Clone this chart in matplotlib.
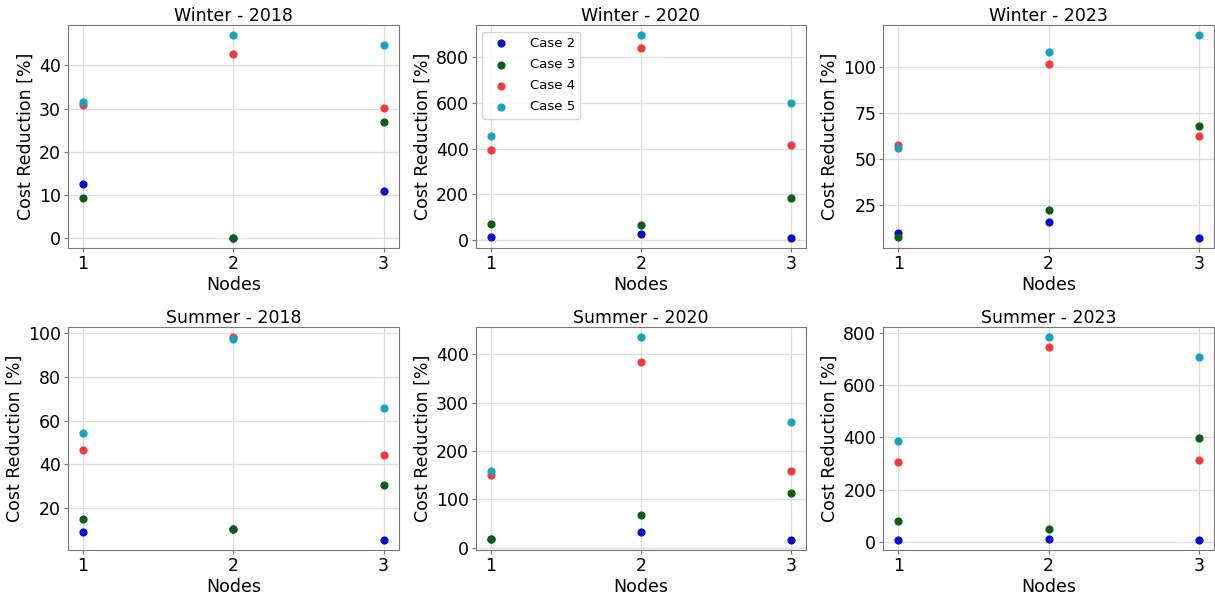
import matplotlib
matplotlib.use("Agg")
import matplotlib.pyplot as plt

nodes = [1, 2, 3]
cases = ["Case 2", "Case 3", "Case 4", "Case 5"]
colors = ["#0a0acc", "#0b5e12", "#f23a3a", "#16a3bd"]
titles = ["Winter - 2018", "Winter - 2020", "Winter - 2023",
          "Summer - 2018", "Summer - 2020", "Summer - 2023"]

# cost reduction [%] per panel, one list per case (nodes 1..3)
winter_2018 = [[12.6, 0.0, 10.9], [9.4, 0.0, 27.0], [30.9, 42.7, 30.2], [31.5, 47.0, 44.8]]
winter_2020 = [[12, 25, 8], [70, 65, 183], [395, 840, 415], [455, 897, 600]]
winter_2023 = [[9.8, 15.5, 6.8], [7.7, 22.0, 68.0], [57.5, 101.5, 62.5], [56.0, 108.0, 117.0]]
summer_2018 = [[9.0, 10.5, 5.5], [15.2, 10.5, 30.8], [46.7, 98.2, 44.2], [54.5, 97.0, 65.8]]
summer_2020 = [[17, 32, 16], [17, 68, 114], [151, 383, 158], [158, 436, 260]]
summer_2023 = [[8, 12, 8], [80, 48, 398], [308, 746, 315], [386, 785, 708]]

panels = [winter_2018, winter_2020, winter_2023, summer_2018, summer_2020, summer_2023]

plt.rcParams["font.size"] = 12.5

fig, axes = plt.subplots(2, 3, figsize=(12.15, 5.96), dpi=100)
fig.subplots_adjust(left=0.056, right=0.999, top=0.958, bottom=0.077,
                    wspace=0.233, hspace=0.35)

for ax, title, data in zip(axes.flat, titles, panels):
    for vals, c, lab in zip(data, colors, cases):
        ax.scatter(nodes, vals, color=c, s=24, label=lab, zorder=3)
    ax.set_title(title, fontsize=12.5, pad=3)
    ax.set_xlabel("Nodes", labelpad=2)
    ax.set_ylabel("Cost Reduction [%]", labelpad=3)
    ax.set_xticks(nodes)
    ax.grid(True, color="#dddddd", linewidth=0.9)
    ax.set_axisbelow(True)
    for sp in ax.spines.values():
        sp.set_color("#777777")
    ax.tick_params(length=3, pad=2, color="#777777")

axes[0, 1].legend(loc="upper left", fontsize=9.5, handletextpad=1.2,
                  borderaxespad=0.5, labelspacing=0.62)

fig.savefig("out.png", dpi=100)
